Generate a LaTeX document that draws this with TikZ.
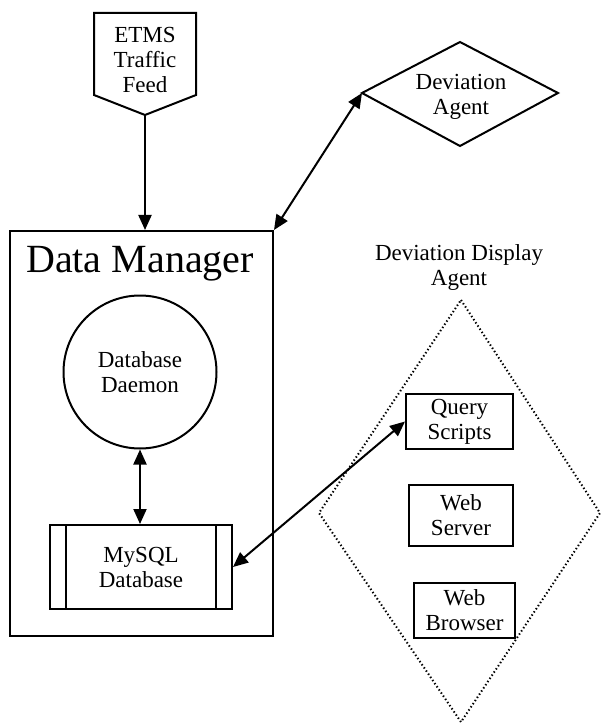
\documentclass[tikz,border=0pt]{standalone}
\usepackage{fontspec}
\setmainfont{Liberation Serif}
\usetikzlibrary{arrows.meta}
\begin{document}
\begin{tikzpicture}[x=1pt,y=-1pt,
  outline/.style={draw=black, line width=2pt},
  lbl/.style={align=center, font=\fontsize{23}{25}\selectfont, inner sep=0pt},
  tipA/.tip={Triangle[length=15pt,width=13pt]},
  feedarrow/.style={line width=2pt, -tipA},
  conn/.style={line width=2pt, tipA-tipA},
  box/.style={outline, rectangle, lbl},
]
\useasboundingbox (0,0) rectangle (601,727);

% ETMS traffic feed: downward pointing pentagon
\coordinate (etmsTip) at (145,115);
\draw[outline, line join=miter] (94,13) -- (196,13) -- (196,95) -- (etmsTip) -- (94,95) -- cycle;
\node[lbl] (etms) at (145,60) {ETMS\\Traffic\\Feed};

% Deviation agent diamond
\coordinate (daLeft) at (362,93);
\coordinate (daTop) at (460,42);
\coordinate (daRight) at (558,93);
\coordinate (daBottom) at (460,146);
\draw[outline, line join=miter] (daLeft) -- (daTop) -- (daRight) -- (daBottom) -- cycle;
\node[lbl] (devagent) at (461,97) {Deviation\\Agent};

% Data manager with its two components
\node[outline, rectangle, minimum width=263pt, minimum height=405pt, inner sep=0pt] (dm) at (141.5,433.5) {};
\node[font=\fontsize{40}{42}\selectfont, inner sep=0pt] (dmtitle) at (140,264) {Data Manager};
\node[outline, circle, minimum size=153pt, inner sep=0pt, lbl] (daemon) at (140,372) {Database\\Daemon};
\node[box, minimum width=182pt, minimum height=84pt, inner sep=0pt] (mysql) at (141,567) {MySQL\\Database};
\draw[outline] ([xshift=17pt]mysql.north west) -- ([xshift=17pt]mysql.south west);
\draw[outline] ([xshift=-17pt]mysql.north east) -- ([xshift=-17pt]mysql.south east);

% Deviation display agent: dotted diamond holding three boxes
\coordinate (ddTop) at (461,300);
\coordinate (ddRight) at (600,513);
\coordinate (ddBottom) at (461,722);
\coordinate (ddLeft) at (319,513);
\draw[line width=2pt, dash pattern=on 1.4pt off 2.4pt] (ddTop) -- (ddRight) -- (ddBottom) -- (ddLeft) -- cycle;
\node[lbl] (ddlabel) at (459,268) {Deviation Display\\Agent};
\node[box, minimum width=107pt, minimum height=55pt, inner sep=0pt] (query) at (459.5,421.5) {Query\\Scripts};
\node[box, minimum width=104pt, minimum height=61pt, inner sep=0pt] (webserver) at (461,515) {Web\\Server};
\node[box, minimum width=101pt, minimum height=55pt, inner sep=0pt] (browser) at (464.5,610.5) {Web\\Browser};

% Connectors
\draw[feedarrow] (etmsTip) -- (etmsTip |- dm.north);
\draw[conn] (dm.north east) -- (daLeft);
\draw[conn] (daemon.south) -- (daemon.south |- mysql.north);
\draw[conn] (mysql.east) -- (query.west);
\end{tikzpicture}
\end{document}
